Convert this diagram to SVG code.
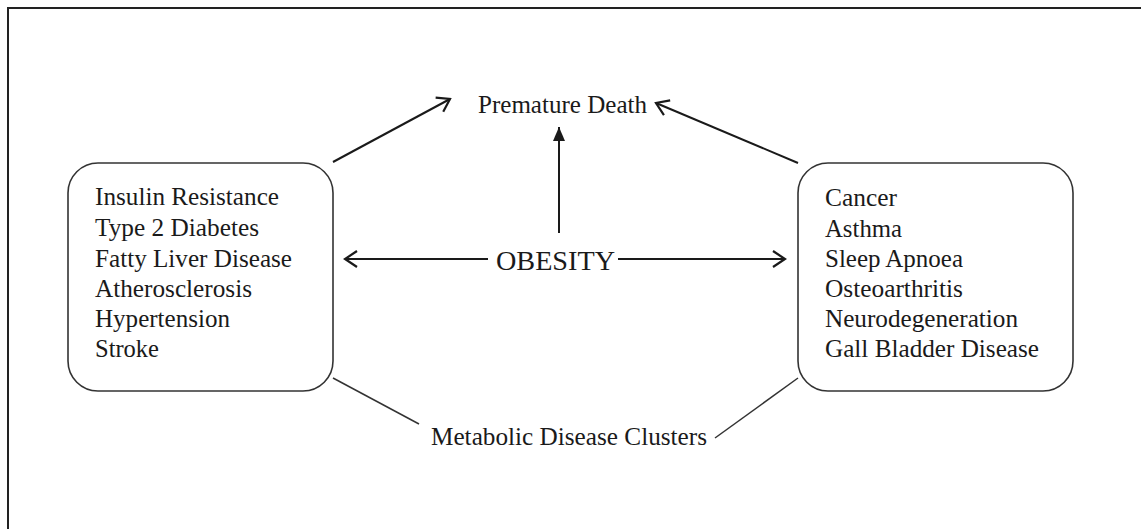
<svg xmlns="http://www.w3.org/2000/svg" width="1141" height="529" viewBox="0 0 1141 529">
<style>
text{font-family:"Liberation Serif","Times New Roman",serif;fill:#1a1a1a}
.lst{font-size:25px}
.box{fill:#fff;stroke:#333;stroke-width:1.6}
.ln{stroke:#1a1a1a;stroke-width:2;fill:none}
.thin{stroke:#333;stroke-width:1.5;fill:none}
</style>
<defs>
<marker id="open" markerUnits="userSpaceOnUse" markerWidth="16" markerHeight="20" viewBox="0 0 16 20" refX="14" refY="10" orient="auto">
<path d="M2,2 L14,10 L2,18" fill="none" stroke="#1a1a1a" stroke-width="2.2"/>
</marker>
<marker id="solid" markerUnits="userSpaceOnUse" markerWidth="14" markerHeight="12" viewBox="0 0 14 12" refX="14" refY="6" orient="auto">
<path d="M0,0 L14,6 L0,12 Z" fill="#1a1a1a"/>
</marker>
</defs>
<rect width="1141" height="529" fill="#fff"/>
<path d="M8,529 L8,8 L1141,8" fill="none" stroke="#222" stroke-width="2"/>
<g id="connectors">
<line class="ln" x1="333" y1="162" x2="450" y2="99" marker-end="url(#open)"/>
<line class="ln" x1="798" y1="163" x2="656" y2="103" marker-end="url(#open)"/>
<line class="ln" x1="559" y1="233" x2="559" y2="127" marker-end="url(#solid)"/>
<line class="ln" x1="488" y1="259" x2="345" y2="259" marker-end="url(#open)"/>
<line class="ln" x1="618" y1="259" x2="785" y2="259" marker-end="url(#open)"/>
<line class="thin" x1="333" y1="378" x2="419" y2="424"/>
<line class="thin" x1="715" y1="438" x2="798" y2="378"/>
</g>
<g id="premature-death">
<text x="478" y="113" font-size="25" textLength="169" lengthAdjust="spacingAndGlyphs">Premature Death</text>
</g>
<g id="obesity">
<text x="496" y="270" font-size="28" textLength="119" lengthAdjust="spacingAndGlyphs">OBESITY</text>
</g>
<g id="metabolic-disease-clusters">
<text x="431" y="445" font-size="25" textLength="276" lengthAdjust="spacingAndGlyphs">Metabolic Disease Clusters</text>
</g>
<g id="left-box">
<rect class="box" x="68" y="163" width="265" height="228" rx="30" ry="30"/>
<text class="lst" x="95" y="205" textLength="184" lengthAdjust="spacingAndGlyphs">Insulin Resistance</text>
<text class="lst" x="95" y="236" textLength="164" lengthAdjust="spacingAndGlyphs">Type 2 Diabetes</text>
<text class="lst" x="95" y="267" textLength="197" lengthAdjust="spacingAndGlyphs">Fatty Liver Disease</text>
<text class="lst" x="95" y="297" textLength="157" lengthAdjust="spacingAndGlyphs">Atherosclerosis</text>
<text class="lst" x="95" y="327" textLength="135" lengthAdjust="spacingAndGlyphs">Hypertension</text>
<text class="lst" x="95" y="357" textLength="64" lengthAdjust="spacingAndGlyphs">Stroke</text>
</g>
<g id="right-box">
<rect class="box" x="798" y="163" width="275" height="228" rx="30" ry="30"/>
<text class="lst" x="825" y="206" textLength="72" lengthAdjust="spacingAndGlyphs">Cancer</text>
<text class="lst" x="825" y="237" textLength="77" lengthAdjust="spacingAndGlyphs">Asthma</text>
<text class="lst" x="825" y="267" textLength="138" lengthAdjust="spacingAndGlyphs">Sleep Apnoea</text>
<text class="lst" x="825" y="297" textLength="138" lengthAdjust="spacingAndGlyphs">Osteoarthritis</text>
<text class="lst" x="825" y="327" textLength="193" lengthAdjust="spacingAndGlyphs">Neurodegeneration</text>
<text class="lst" x="825" y="357" textLength="214" lengthAdjust="spacingAndGlyphs">Gall Bladder Disease</text>
</g>
</svg>
